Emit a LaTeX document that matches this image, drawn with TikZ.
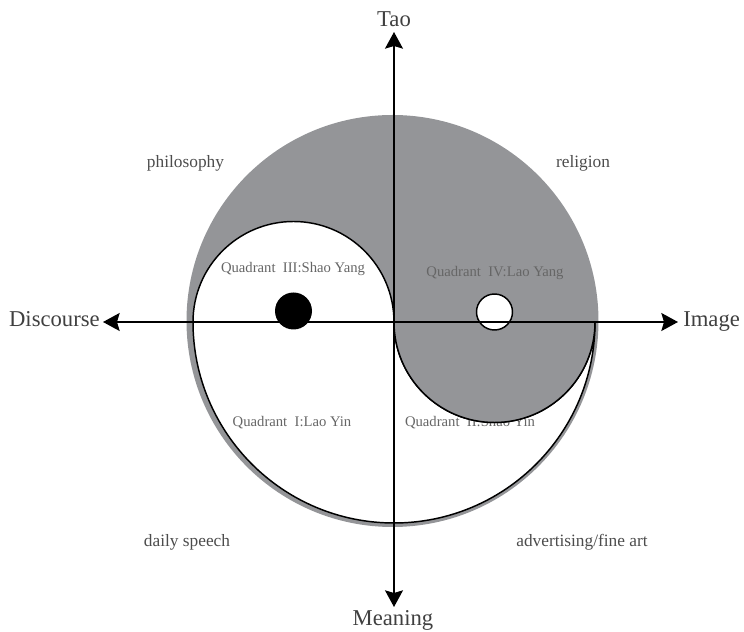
\documentclass[tikz,border=0pt]{standalone}
\usepackage{fontspec}
\setmainfont{Liberation Serif}
\usetikzlibrary{arrows.meta}
\definecolor{yygray}{RGB}{148,149,152}
\begin{document}
\begin{tikzpicture}[x=0.75pt,y=0.75pt,
  axislbl/.style={font=\fontsize{17}{20}\selectfont, text=black!75, inner sep=0pt},
  outerlbl/.style={font=\fontsize{13}{15}\selectfont, text=black!70, inner sep=0pt, anchor=base},
  quadlbl/.style={font=\fontsize{11}{13}\selectfont, text=black!60, inner sep=0pt, anchor=base},
  outline/.style={line width=1.1pt},
  axisline/.style={line width=1.1pt, -{Stealth[length=12.5pt,width=13.5pt,inset=2pt]}}]
\useasboundingbox (0,0) rectangle (744,632);
% big gray disc (with shadow)
\fill[yygray] (392.5,311) circle[radius=206];
% white part with outline
\filldraw[fill=white, outline] (193,310)
  arc[start angle=180, end angle=360, radius=201]
  arc[start angle=0, end angle=-180, radius=100.5]
  arc[start angle=0, end angle=180, radius=100.5] -- cycle;
% quadrant labels
\node[quadlbl] (q3) at (293,359) {Quadrant\ \ III:Shao Yang};
\node[quadlbl] (q4) at (495,355) {Quadrant\ \ IV:Lao Yang};
\node[quadlbl] (q1) at (292,205) {Quadrant\ \ I:Lao Yin};
\node[quadlbl] (q2) at (470,205) {Quadrant\ \ II:Shao Yin};
% lower right gray lobe drawn over the label
\fill[yygray] (595,310) arc[start angle=0, end angle=-180, radius=100.5] -- cycle;
\draw[outline] (595,310) arc[start angle=0, end angle=-180, radius=100.5];
% eyes
\fill[black] (293.5,321) circle[radius=18.5];
\filldraw[fill=white, outline] (494.5,320) circle[radius=18];
% axes
\coordinate (O) at (394,310);
\coordinate (tN) at (394,600);
\coordinate (tS) at (394,25);
\coordinate (tW) at (103,310);
\coordinate (tE) at (678,310);
\draw[axisline] (O) -- (tN);
\draw[axisline] (O) -- (tS);
\draw[axisline] (O) -- (tW);
\draw[axisline] (O) -- (tE);
% axis labels
\node[axislbl, anchor=base] (tao) at (394,605) {Tao};
\node[axislbl, anchor=base] (meaning) at (393,6) {Meaning};
\node[axislbl, anchor=base east] (discourse) at (100,305) {Discourse};
\node[axislbl, anchor=base west] (image) at (683,305) {Image};
% outer labels
\node[outerlbl] (philo) at (185.5,464) {philosophy};
\node[outerlbl] (relig) at (583,464) {religion};
\node[outerlbl] (daily) at (187,85) {daily speech};
\node[outerlbl] (adv) at (582,85) {advertising/fine art};
\end{tikzpicture}
\end{document}
